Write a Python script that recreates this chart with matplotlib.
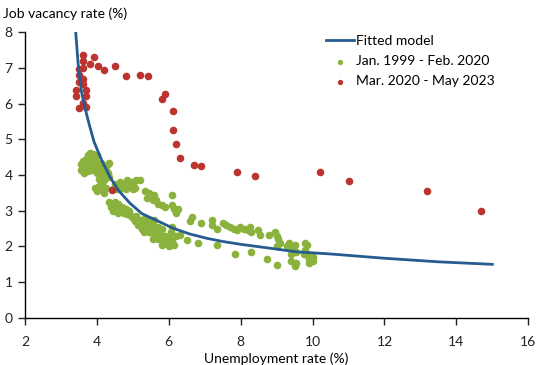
import matplotlib.pyplot as plt

plt.rcParams['font.family'] = ['Lato', 'DejaVu Sans']

# fitted model
fit_u = [3.41, 3.48, 3.57, 3.67, 3.79, 3.92, 4.13, 4.36, 4.59, 4.92, 5.25, 5.7,
         6.12, 6.58, 7.05, 7.5, 8.0, 8.6, 9.55, 10.5, 12.0, 13.5, 15.0]
fit_v = [8.0, 7.08, 6.33, 5.87, 5.4, 4.93, 4.42, 3.95, 3.58, 3.21, 2.92, 2.71,
         2.51, 2.35, 2.23, 2.14, 2.06, 1.98, 1.85, 1.79, 1.67, 1.57, 1.5]

# Jan. 1999 - Feb. 2020
green_u = [3.55, 3.55, 3.6, 3.65, 3.7, 3.7, 3.75, 3.8, 3.8, 3.85, 3.9, 3.9, 3.95, 4.0, 4.0,
           3.65, 3.75, 3.85, 4.05, 4.1,
           4.1, 4.15, 4.2, 4.25, 4.3, 4.35, 4.3, 4.15, 4.05, 4.0, 4.2, 4.35,
           4.0, 4.05, 4.1, 4.15, 4.2, 3.95, 4.25,
           4.45, 4.5, 4.6, 4.65, 4.7, 4.75, 4.8, 4.85, 4.9, 5.0, 5.0, 5.1, 5.05, 4.55, 4.95, 5.2,
           5.35, 5.45, 5.5, 5.6, 5.65, 5.4, 5.7, 5.55,
           6.1, 5.8, 5.9, 6.1, 6.15, 6.2, 6.25,
           4.35, 4.4, 4.5, 4.55, 4.6, 4.65, 4.7, 4.75, 4.8, 4.85, 4.9, 4.95, 4.5, 4.4, 4.45, 4.6,
           5.0, 5.05, 5.1, 5.15, 5.2, 5.25, 5.3, 5.35, 5.4, 5.45, 5.5, 5.55, 5.6, 5.3, 5.45,
           5.6, 5.65, 5.7, 5.75, 5.8, 5.85, 5.9, 5.95, 6.0, 6.05, 6.1, 6.15, 6.2, 5.7, 5.8,
           6.0, 6.1, 5.55,
           6.3, 6.5, 6.8, 7.33, 7.83, 8.3, 8.72, 9.0, 9.4, 9.5, 9.55,
           6.6, 6.65, 6.9, 7.2, 7.2, 7.33, 7.5, 7.6, 7.7, 7.8, 7.9, 7.97, 8.1, 8.2, 8.25,
           8.3, 8.47, 8.53, 8.8, 8.95, 9.0, 9.05, 9.1, 9.0, 9.3, 9.35, 9.45, 9.5, 9.55,
           9.4, 9.8, 9.85, 9.8, 9.85, 9.9, 10.0, 9.75, 9.9, 10.0]
green_v = [4.15, 4.3, 4.4, 4.25, 4.45, 4.2, 4.55, 4.35, 4.62, 4.5, 4.25, 4.6, 4.45, 4.55, 4.3,
           4.05, 4.1, 4.15, 4.2, 4.35,
           4.1, 4.25, 4.0, 4.15, 4.3, 4.35, 4.05, 3.95, 3.9, 4.05, 3.85, 3.95,
           3.55, 3.7, 3.6, 3.75, 3.5, 3.65, 3.65,
           3.6, 3.75, 3.7, 3.8, 3.65, 3.75, 3.6, 3.85, 3.7, 3.75, 3.6, 3.85, 3.65, 3.62, 3.8, 3.85,
           3.55, 3.5, 3.4, 3.45, 3.3, 3.35, 3.2, 3.3,
           3.44, 3.15, 3.1, 3.15, 3.05, 2.95, 3.05,
           3.25, 3.1, 3.15, 3.05, 3.2, 3.0, 3.1, 2.95, 3.05, 2.9, 3.0, 2.85, 3.25, 3.2, 3.0, 2.95,
           2.8, 2.7, 2.85, 2.6, 2.75, 2.5, 2.65, 2.8, 2.55, 2.7, 2.45, 2.6, 2.75, 2.4, 2.4,
           2.3, 2.45, 2.2, 2.35, 2.5, 2.15, 2.3, 2.1, 2.25, 2.4, 2.15, 2.05, 2.3, 2.55, 2.05,
           2.0, 2.55, 2.2,
           2.32, 2.18, 2.1, 2.04, 1.79, 1.85, 1.65, 1.48, 1.6, 1.45, 1.55,
           2.7, 2.82, 2.66, 2.6, 2.74, 2.49, 2.66, 2.6, 2.55, 2.5, 2.46, 2.55, 2.5, 2.45, 2.55,
           2.4, 2.46, 2.32, 2.32, 2.4, 2.3, 2.2, 2.1, 2.0, 2.0, 2.1, 1.95, 2.05, 1.85,
           1.8, 2.1, 2.05, 1.9, 1.75, 1.65, 1.6, 1.8, 1.55, 1.7]

# Mar. 2020 - May 2023
red_u = [3.62, 3.62, 3.93, 3.81, 4.02, 4.2, 4.51, 4.81, 5.2, 5.41,
         3.51, 3.62, 3.51, 3.62, 3.51, 3.62, 3.43, 3.7, 3.43, 3.7, 3.62, 3.7, 3.51,
         5.81, 5.9, 6.11, 6.11, 6.2, 6.31, 6.7, 6.9, 7.9, 8.4,
         10.2, 11.01, 13.18, 14.68, 4.43]
red_v = [7.35, 7.19, 7.29, 7.1, 7.04, 6.93, 7.04, 6.76, 6.79, 6.76,
         6.96, 6.99, 6.81, 6.7, 6.59, 6.54, 6.37, 6.37, 6.2, 6.2, 6.01, 5.89, 5.87,
         6.13, 6.26, 5.78, 5.25, 4.86, 4.49, 4.27, 4.24, 4.08, 3.96,
         4.08, 3.82, 3.54, 2.98, 3.57]

green = '#8AB23C'
red = '#BB3430'
blue = '#265C8F'

fig = plt.figure(figsize=(5.5, 3.65), dpi=100)
ax = fig.add_axes([0.0455, 0.129, 0.915, 0.783])

ax.scatter(green_u, green_v, s=30, color=green, linewidths=0, zorder=2,
           label='Jan. 1999 - Feb. 2020')
ax.scatter(red_u, red_v, s=30, color=red, linewidths=0, zorder=2,
           label='Mar. 2020 - May 2023')
ax.plot(fit_u, fit_v, color=blue, lw=2, zorder=3, label='Fitted model')

ax.set_xlim(2, 16)
ax.set_ylim(0, 8)
ax.set_xticks(range(2, 17, 2))
ax.set_yticks(range(0, 9))
for s in ['top', 'right']:
    ax.spines[s].set_visible(False)
for s in ['left', 'bottom']:
    ax.spines[s].set_linewidth(1.0)
ax.tick_params(direction='out', length=5, width=1, labelsize=10, colors='#222222')
ax.tick_params(axis='x', pad=8)
ax.tick_params(axis='y', pad=4)

ax.set_xlabel('Unemployment rate (%)', fontsize=10, labelpad=3)
fig.text(0.005, 0.962, 'Job vacancy rate (%)', fontsize=10, va='center', ha='left')

handles, labels = ax.get_legend_handles_labels()
order = [2, 0, 1]
ax.legend([handles[i] for i in order], [labels[i] for i in order],
          loc='upper right', bbox_to_anchor=(0.945, 1.01), frameon=False, fontsize=10,
          handlelength=2.0, handletextpad=0.2, labelspacing=0.6, markerscale=0.7,
          borderaxespad=0.0)

fig.savefig('out.png', dpi=100)
